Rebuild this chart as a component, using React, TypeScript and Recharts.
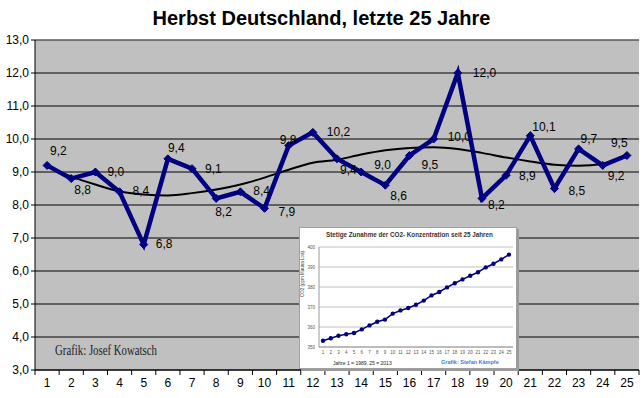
import React from "react";
import {
  CartesianGrid,
  LabelList,
  Line,
  LineChart,
  ReferenceLine,
  XAxis,
  YAxis,
} from "recharts";

// Herbst (autumn) mean temperature, Germany, last 25 years
const years = [
  "1", "2", "3", "4", "5", "6", "7", "8", "9", "10", "11", "12", "13",
  "14", "15", "16", "17", "18", "19", "20", "21", "22", "23", "24", "25",
];
const temps = [
  9.2, 8.8, 9.0, 8.4, 6.8, 9.4, 9.1, 8.2, 8.4, 7.9, 9.8, 10.2, 9.4, 9.0, 8.6,
  9.5, 10.0, 12.0, 8.2, 8.9, 10.1, 8.5, 9.7, 9.2, 9.5,
];
// polynomial trend line
const trend = [
  9.16, 8.86, 8.62, 8.41, 8.32, 8.29, 8.36, 8.47, 8.62, 8.83, 9.07, 9.28, 9.37,
  9.53, 9.66, 9.73, 9.75, 9.7, 9.58, 9.44, 9.32, 9.22, 9.19, 9.24, 9.47,
];
const tempTicks = [3, 4, 5, 6, 7, 8, 9, 10, 11, 12, 13];

// inset: CO2 Mauna Loa, 1989..2013
const co2 = [
  353.1, 354.4, 355.6, 356.4, 357.0, 358.8, 360.8, 362.6, 363.7, 366.7, 368.3,
  369.5, 371.1, 373.2, 375.8, 377.5, 379.8, 381.9, 383.8, 385.6, 387.4, 389.8,
  391.6, 393.8, 396.2,
];
const co2Ticks = [350, 360, 370, 380, 390, 400];

// hand placed data label offsets (like in the Excel original)
const labelDx = [3, 3, 12, 13, 12, 0, 13, -1, 13, 14, -9, 14, 3, 13, 5, 12, 14, 15, 6, 13, 2, 14, 2, 5, -16];
const labelDy = [-14, 11, 0, -1, -1, -11, 0, 14, -1, 4, -6, 0, 11, -7, 11, 9, -2, 0, 7, 1, -9, 2, -10, 11, -13];

const FONT = "'Liberation Sans', Arial, sans-serif";
const NAVY = "#000080";
const PLOT_LEFT = 35;
const PLOT_RIGHT = 639;
const PLOT_BOTTOM = 370;
const HALF_BAND = (PLOT_RIGHT - PLOT_LEFT) / years.length / 2;

const fmt = (v: number) => v.toFixed(1).replace(".", ",");

function YearTick({ x, y, payload, index }: any) {
  return (
    <g>
      <line x1={x + HALF_BAND} y1={PLOT_BOTTOM} x2={x + HALF_BAND} y2={PLOT_BOTTOM + 5} stroke="#000" />
      {index === 0 && (
        <line x1={x - HALF_BAND} y1={PLOT_BOTTOM} x2={x - HALF_BAND} y2={PLOT_BOTTOM + 5} stroke="#000" />
      )}
      <text x={x} y={y} dy="0.71em" textAnchor="middle" fontSize={12} fill="#000" fontFamily={FONT}>
        {payload.value}
      </text>
    </g>
  );
}

function Diamond({ cx, cy }: any) {
  if (cx == null || cy == null) return null;
  const s = 4;
  return (
    <polygon
      points={`${cx},${cy - s} ${cx + s},${cy} ${cx},${cy + s} ${cx - s},${cy}`}
      fill={NAVY}
      stroke={NAVY}
    />
  );
}

function ValueLabel({ x, y, value, index }: any) {
  return (
    <text
      x={x + labelDx[index]}
      y={y + labelDy[index]}
      dominantBaseline="central"
      fontSize={12}
      fill="#000"
      fontFamily={FONT}
    >
      {fmt(value)}
    </text>
  );
}

function Co2Inset() {
  const data = years.map((year, i) => ({ year, co2: co2[i] }));
  return (
    <div
      style={{
        position: "absolute",
        left: 299,
        top: 227,
        width: 216,
        height: 140,
        background: "#fff",
        border: "1px solid #a0a0a0",
        boxShadow: "2px 2px 0 #9a9a9a",
        fontFamily: FONT,
      }}
    >
      <div
        style={{
          position: "absolute",
          left: 26,
          top: 3,
          fontSize: 6.3,
          fontWeight: "bold",
          color: "#333",
          whiteSpace: "nowrap",
        }}
      >
        Stetige Zunahme der CO2- Konzentration seit 25 Jahren
      </div>
      <LineChart
        width={216}
        height={140}
        data={data}
        margin={{ top: 19, right: 3, left: 0, bottom: 12 }}
      >
        <CartesianGrid vertical={false} stroke="#c0c0c0" />
        <XAxis
          dataKey="year"
          interval={0}
          tick={{ fontSize: 4.5, fill: "#555" }}
          tickLine={false}
          axisLine={{ stroke: "#999" }}
          tickSize={2}
          height={9}
          padding={{ left: 4, right: 4 }}
        />
        <YAxis
          domain={[350, 400]}
          ticks={co2Ticks}
          interval={0}
          tick={{ fontSize: 4.5, fill: "#555" }}
          tickLine={false}
          axisLine={{ stroke: "#999" }}
          tickSize={2}
          width={19}
          label={{
            value: "CO2 (ppm Mauna Loa)",
            angle: -90,
            position: "insideLeft",
            offset: 2,
            fontSize: 4.5,
            fill: "#444",
          }}
        />
        <Line
          dataKey="co2"
          stroke={NAVY}
          strokeWidth={1.6}
          dot={{ r: 1.4, fill: NAVY, stroke: NAVY }}
          isAnimationActive={false}
        />
      </LineChart>
      <div style={{ position: "absolute", left: 33, top: 132, fontSize: 5, color: "#222", whiteSpace: "nowrap" }}>
        Jahre 1 = 1989, 25 = 2013
      </div>
      <div
        style={{
          position: "absolute",
          left: 141,
          top: 131,
          fontSize: 5.5,
          fontWeight: "bold",
          color: "#3a7fd5",
          whiteSpace: "nowrap",
        }}
      >
        Grafik: Stefan Kämpfe
      </div>
    </div>
  );
}

export default function App() {
  const data = years.map((year, i) => ({ year, temp: temps[i], trend: trend[i] }));
  return (
    <div
      style={{
        position: "absolute",
        left: 0,
        top: 0,
        width: 643,
        height: 398,
        background: "#fff",
        fontFamily: FONT,
      }}
    >
      <div
        style={{
          position: "absolute",
          left: 0,
          top: 7,
          width: 643,
          textAlign: "center",
          fontSize: 20,
          fontWeight: "bold",
          color: "#000",
        }}
      >
        Herbst Deutschland, letzte 25 Jahre
      </div>
      <LineChart
        width={643}
        height={398}
        data={data}
        margin={{ top: 40, right: 4, left: 0, bottom: 0 }}
        style={{ position: "absolute", left: 0, top: 0 }}
      >
        <CartesianGrid vertical={false} stroke="#000" fill="#c0c0c0" fillOpacity={1} />
        <XAxis
          dataKey="year"
          interval={0}
          height={28}
          padding={{ left: HALF_BAND, right: HALF_BAND }}
          tick={<YearTick />}
          tickLine={false}
          tickSize={5}
          tickMargin={3}
          axisLine={{ stroke: "#000" }}
        />
        <YAxis
          domain={[3, 13]}
          ticks={tempTicks}
          interval={0}
          width={35}
          tickFormatter={fmt}
          tick={{ fontSize: 12, fill: "#000", fontFamily: FONT }}
          tickSize={4}
          tickMargin={2}
          tickLine={{ stroke: "#000" }}
          axisLine={{ stroke: "#000" }}
        />
        <YAxis
          yAxisId="r"
          orientation="right"
          domain={[3, 13]}
          width={0}
          tick={false}
          tickLine={false}
          axisLine={{ stroke: "#808080" }}
        />
        <ReferenceLine y={13} stroke="#808080" />
        <Line
          dataKey="trend"
          type="monotone"
          stroke="#000"
          strokeWidth={2}
          dot={false}
          isAnimationActive={false}
        />
        <Line
          dataKey="temp"
          stroke={NAVY}
          strokeWidth={4.5}
          dot={<Diamond />}
          isAnimationActive={false}
        >
          <LabelList dataKey="temp" content={<ValueLabel />} />
        </Line>
      </LineChart>
      <svg
        width={643}
        height={398}
        style={{ position: "absolute", left: 0, top: 0, pointerEvents: "none" }}
      >
        <text
          x={55}
          y={355}
          fontSize={15}
          fontFamily="'Liberation Serif', 'Times New Roman', serif"
          fill="#222"
          textLength={102}
          lengthAdjust="spacingAndGlyphs"
        >
          Grafik: Josef Kowatsch
        </text>
      </svg>
      <Co2Inset />
    </div>
  );
}
